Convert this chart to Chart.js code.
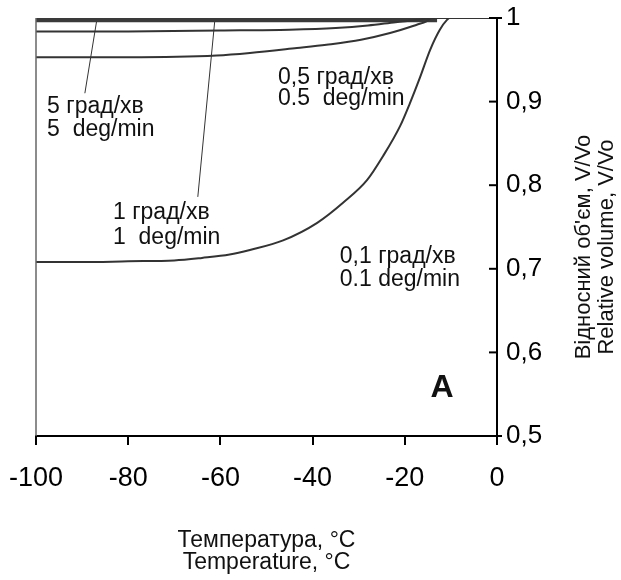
<!DOCTYPE html>
<html>
<head>
<meta charset="utf-8">
<script src="https://cdn.jsdelivr.net/npm/chart.js@4/dist/chart.umd.min.js"></script>
<style>
    body { margin: 0; background: #fff; }
    #wrap { width: 621px; height: 580px; }
</style>
</head>
<body>
<div id="wrap"><canvas id="myChart" width="621" height="580"></canvas></div>
<script>
// temperature (°C) and relative volume V/Vo for each cooling rate
let t01 = [-100, -90, -80, -70, -64, -58, -53.6, -46.4, -39, -33.4, -28.2, -24.7, -21, -18.9, -16.7, -14.5, -12.4, -10.8, -10.3, 0];
let v01 = [0.708, 0.708, 0.709, 0.710, 0.713, 0.717, 0.7225, 0.734, 0.755, 0.779, 0.806, 0.835, 0.871, 0.898, 0.929, 0.962, 0.986, 0.998, 1, 1];

let t05 = [-100, -80, -60.8, -53.6, -43.4, -37, -29.5, -23.2, -17.4, -15.3, -14.3, 0];
let v05 = [0.953, 0.953, 0.955, 0.958, 0.964, 0.968, 0.974, 0.982, 0.992, 0.996, 1, 1];

let t1 = [-100, -80, -60, -45, -35, -28, -22, -17, -14.5, 0];
let v1 = [0.984, 0.984, 0.985, 0.986, 0.988, 0.991, 0.995, 0.998, 1, 1];

let t5 = [-100, -60, -13];
let v5 = [0.998, 0.998, 0.998];

// leader lines from labels to curves
let lead5T = [-86.8, -89.4];
let lead5V = [0.998, 0.910];
let lead1T = [-61.2, -64.9];
let lead1V = [0.998, 0.786];

let xTicks = [-100, -80, -60, -40, -20, 0];
let yTicks = [0.5, 0.6, 0.7, 0.8, 0.9, 1];

let notes = [
    { text: "5 град/хв", x: -97.6, y: 0.894 },
    { text: "5  deg/min", x: -97.6, y: 0.866 },
    { text: "1 град/хв", x: -83.3, y: 0.767 },
    { text: "1  deg/min", x: -83.3, y: 0.737 },
    { text: "0,5 град/хв", x: -47.5, y: 0.929 },
    { text: "0.5  deg/min", x: -47.5, y: 0.904 },
    { text: "0,1 град/хв", x: -34.1, y: 0.714 },
    { text: "0.1 deg/min", x: -34.1, y: 0.687 }
];

function pts(xs, ys) {
    let out = [];
    for (let i = 0; i < xs.length; i++) {
        out.push({ x: xs[i], y: ys[i] });
    }
    return out;
}

// keep the plot box fixed, labels may overflow into the margins
function noPad(s) {
    s.paddingLeft = 0;
    s.paddingRight = 0;
    s.paddingTop = 0;
    s.paddingBottom = 0;
}

let FONT = "'Liberation Sans', Arial, sans-serif";
let LINE = "#333";

let extras = {
    id: "extras",
    afterDraw: function (chart) {
        let ctx = chart.ctx;
        let xs = chart.scales.x;
        let ys = chart.scales.y;
        let a = chart.chartArea;
        ctx.save();

        // left frame line
        ctx.strokeStyle = "#666";
        ctx.lineWidth = 1.5;
        ctx.beginPath();
        ctx.moveTo(a.left, a.top);
        ctx.lineTo(a.left, a.bottom);
        ctx.stroke();

        // inward ticks on the right axis, end ticks cross the axis
        ctx.strokeStyle = "#000";
        ctx.lineWidth = 2;
        for (let i = 0; i < yTicks.length; i++) {
            let py = ys.getPixelForValue(yTicks[i]);
            let out = (i == 0 || i == yTicks.length - 1) ? 5 : 0;
            ctx.beginPath();
            ctx.moveTo(a.right - 8, py);
            ctx.lineTo(a.right + out, py);
            ctx.stroke();
        }

        // curve labels
        ctx.fillStyle = "#111";
        ctx.font = "23px " + FONT;
        ctx.textAlign = "left";
        ctx.textBaseline = "middle";
        for (let i = 0; i < notes.length; i++) {
            ctx.fillText(notes[i].text, xs.getPixelForValue(notes[i].x), ys.getPixelForValue(notes[i].y));
        }

        ctx.font = "bold 32px " + FONT;
        ctx.textAlign = "center";
        ctx.fillText("A", xs.getPixelForValue(-11.9), ys.getPixelForValue(0.557));

        // right axis title, reads bottom to top
        ctx.font = "22px " + FONT;
        ctx.translate(a.right + 87, (a.top + a.bottom) / 2 + 20);
        ctx.rotate(-Math.PI / 2);
        ctx.fillText("Відносний об'єм, V/Vo", 0, 0);
        ctx.fillText("Relative volume, V/Vo", 0, 23);
        ctx.restore();
    }
};

let myChart = new Chart(document.getElementById("myChart"), {
    type: "line",
    data: {
        datasets: [
            { data: pts(t01, v01), borderColor: LINE, borderWidth: 2, cubicInterpolationMode: "monotone" },
            { data: pts(t05, v05), borderColor: LINE, borderWidth: 2, cubicInterpolationMode: "monotone" },
            { data: pts(t1, v1), borderColor: LINE, borderWidth: 2, cubicInterpolationMode: "monotone" },
            { data: pts(t5, v5), borderColor: "#3a3a3a", borderWidth: 5 },
            { data: pts(lead5T, lead5V), borderColor: LINE, borderWidth: 1 },
            { data: pts(lead1T, lead1V), borderColor: LINE, borderWidth: 1 }
        ]
    },
    options: {
        responsive: false,
        animation: false,
        layout: { padding: { left: 36, top: 18, right: 0, bottom: 0 } },
        elements: { point: { radius: 0 }, line: { fill: false } },
        plugins: { legend: { display: false }, tooltip: { enabled: false } },
        scales: {
            x: {
                type: "linear",
                min: -100,
                max: 0,
                afterBuildTicks: function (s) { s.ticks = xTicks.map(function (v) { return { value: v }; }); },
                afterFit: function (s) { s.height = 144; noPad(s); },
                grid: { drawOnChartArea: false, tickLength: 9, color: "#000", lineWidth: 2 },
                border: { color: "#000", width: 2 },
                ticks: { color: "#000", padding: 17, maxRotation: 0, font: { family: FONT, size: 27 } },
                title: {
                    display: true,
                    text: ["Температура, °C", "Temperature, °C"],
                    color: "#111",
                    font: { family: FONT, size: 23, lineHeight: 0.96 },
                    padding: { top: 0, bottom: 6 }
                }
            },
            y: {
                type: "linear",
                position: "right",
                min: 0.5,
                max: 1,
                afterBuildTicks: function (s) { s.ticks = yTicks.map(function (v) { return { value: v }; }); },
                afterFit: function (s) { s.width = 124; noPad(s); },
                grid: { drawOnChartArea: false, drawTicks: false },
                border: { color: "#000", width: 2 },
                ticks: {
                    color: "#000",
                    padding: 9,
                    font: { family: FONT, size: 26 },
                    callback: function (v) { return String(Math.round(v * 10) / 10).replace(".", ","); }
                }
            }
        }
    },
    plugins: [extras]
});
</script>
</body>
</html>
